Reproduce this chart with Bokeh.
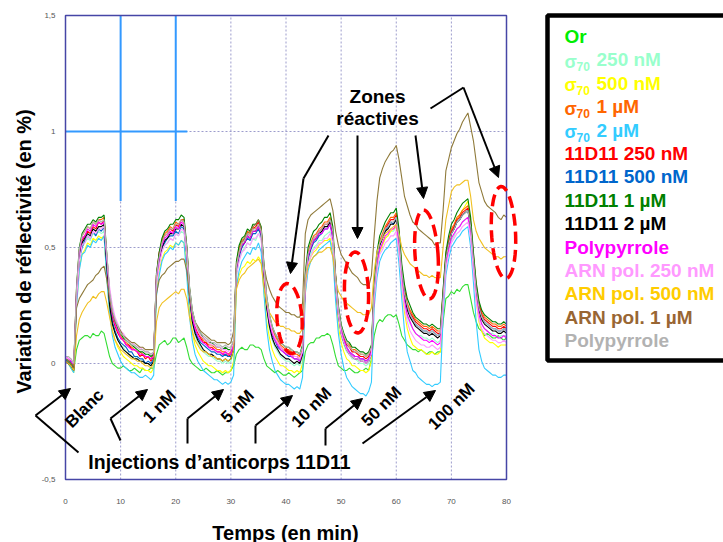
import math
from bokeh.plotting import figure
from bokeh.models import (Range1d, FixedTicker, Label, Arrow, NormalHead,
                          BoxAnnotation, PolyAnnotation)
from bokeh.embed import file_html
from bokeh.resources import INLINE

# ---------------- data: reflectivity variation (%) every 0.5 min, 0..80 min ----------------
time_min = [i * 0.5 for i in range(161)]

or_gold = [
    0.01, 0.02, -0.01, -0.03, 0.06, 0.10, 0.11, 0.12, 0.12, 0.11, 0.13, 0.12, 0.12, 0.14, 0.13, 0.08, 0.03, 0.00, -0.01, -0.02,
    -0.02, -0.01, -0.02, -0.03, -0.03, -0.02, -0.03, -0.04, -0.02, -0.03, -0.03, -0.02, -0.02, 0.04, 0.08, 0.09, 0.10, 0.08, 0.09, 0.11,
    0.11, 0.09, 0.10, 0.11, 0.07, 0.02, 0.00, -0.01, -0.02, -0.03, -0.03, -0.02, -0.03, -0.04, -0.04, -0.03, -0.04, -0.05, -0.04, -0.04,
    -0.03, -0.01, 0.04, 0.06, 0.07, 0.06, 0.06, 0.08, 0.08, 0.07, 0.07, 0.06, 0.02, -0.01, -0.02, -0.03, -0.04, -0.03, -0.04, -0.05,
    -0.05, -0.04, -0.05, -0.06, -0.05, -0.04, -0.03, 0.05, 0.08, 0.09, 0.09, 0.11, 0.11, 0.12, 0.12, 0.13, 0.12, 0.08, 0.03, -0.01,
    -0.02, -0.03, -0.03, -0.02, -0.03, -0.04, -0.04, -0.03, -0.03, -0.02, -0.03, 0.02, 0.12, 0.17, 0.19, 0.18, 0.20, 0.21, 0.21, 0.20,
    0.21, 0.17, 0.12, 0.10, 0.08, 0.07, 0.06, 0.06, 0.05, 0.06, 0.05, 0.04, 0.05, 0.05, 0.04, 0.05, 0.05, 0.18, 0.28, 0.29,
    0.31, 0.30, 0.32, 0.31, 0.33, 0.34, 0.34, 0.28, 0.22, 0.18, 0.15, 0.14, 0.12, 0.13, 0.12, 0.11, 0.11, 0.12, 0.11, 0.10,
    0.11]
sigma_250 = [
    0.02, 0.01, 0.00, -0.02, 0.27, 0.44, 0.50, 0.52, 0.54, 0.53, 0.56, 0.55, 0.57, 0.56, 0.57, 0.40, 0.25, 0.17, 0.13, 0.10,
    0.08, 0.07, 0.05, 0.04, 0.03, 0.03, 0.02, 0.01, 0.01, 0.00, 0.00, -0.01, 0.01, 0.34, 0.44, 0.49, 0.51, 0.52, 0.54, 0.53,
    0.56, 0.55, 0.57, 0.56, 0.46, 0.28, 0.17, 0.12, 0.09, 0.07, 0.05, 0.04, 0.03, 0.03, 0.02, 0.01, 0.01, 0.00, 0.01, 0.00,
    0.01, 0.05, 0.37, 0.45, 0.48, 0.50, 0.52, 0.51, 0.54, 0.53, 0.56, 0.54, 0.37, 0.23, 0.15, 0.10, 0.07, 0.05, 0.03, 0.02,
    0.01, 0.01, 0.00, -0.01, 0.00, -0.01, 0.03, 0.32, 0.43, 0.47, 0.50, 0.51, 0.53, 0.53, 0.55, 0.56, 0.57, 0.52, 0.33, 0.20,
    0.12, 0.08, 0.05, 0.04, 0.02, 0.02, 0.01, 0.00, 0.00, -0.01, 0.00, 0.04, 0.29, 0.41, 0.48, 0.51, 0.54, 0.55, 0.57, 0.57,
    0.59, 0.50, 0.36, 0.26, 0.20, 0.17, 0.15, 0.13, 0.12, 0.12, 0.11, 0.11, 0.10, 0.11, 0.10, 0.09, 0.10, 0.27, 0.43, 0.49,
    0.53, 0.55, 0.58, 0.59, 0.61, 0.62, 0.63, 0.56, 0.42, 0.29, 0.21, 0.17, 0.15, 0.14, 0.13, 0.13, 0.12, 0.11, 0.12, 0.12,
    0.12]
sigma_500 = [
    0.01, 0.00, -0.02, -0.04, 0.25, 0.41, 0.47, 0.49, 0.52, 0.51, 0.54, 0.53, 0.55, 0.54, 0.55, 0.37, 0.22, 0.14, 0.10, 0.07,
    0.05, 0.03, 0.02, 0.01, 0.00, -0.01, -0.01, -0.02, -0.02, -0.03, -0.03, -0.04, -0.02, 0.31, 0.40, 0.45, 0.48, 0.49, 0.51, 0.50,
    0.52, 0.51, 0.53, 0.52, 0.42, 0.23, 0.13, 0.08, 0.05, 0.03, 0.01, 0.00, -0.01, -0.01, -0.02, -0.03, -0.03, -0.04, -0.03, -0.04,
    -0.03, 0.01, 0.33, 0.38, 0.41, 0.42, 0.44, 0.43, 0.45, 0.44, 0.46, 0.44, 0.31, 0.18, 0.11, 0.06, 0.03, 0.01, -0.01, -0.01,
    -0.02, -0.03, -0.03, -0.04, -0.03, -0.04, 0.00, 0.31, 0.42, 0.46, 0.48, 0.49, 0.51, 0.52, 0.53, 0.53, 0.54, 0.49, 0.30, 0.16,
    0.09, 0.05, 0.02, 0.01, -0.01, -0.01, -0.02, -0.03, -0.03, -0.04, -0.03, 0.01, 0.28, 0.41, 0.48, 0.51, 0.54, 0.55, 0.57, 0.58,
    0.59, 0.48, 0.33, 0.22, 0.15, 0.11, 0.08, 0.07, 0.06, 0.06, 0.05, 0.04, 0.04, 0.05, 0.04, 0.04, 0.05, 0.26, 0.44, 0.51,
    0.56, 0.59, 0.62, 0.64, 0.66, 0.68, 0.70, 0.60, 0.42, 0.27, 0.18, 0.14, 0.11, 0.10, 0.09, 0.09, 0.08, 0.07, 0.08, 0.08,
    0.08]
sigma_1u = [
    0.03, 0.02, 0.01, -0.01, 0.32, 0.49, 0.55, 0.57, 0.59, 0.58, 0.61, 0.60, 0.62, 0.62, 0.63, 0.46, 0.30, 0.21, 0.17, 0.14,
    0.12, 0.10, 0.09, 0.08, 0.07, 0.06, 0.05, 0.05, 0.04, 0.03, 0.03, 0.02, 0.04, 0.38, 0.47, 0.53, 0.56, 0.57, 0.59, 0.58,
    0.61, 0.60, 0.62, 0.62, 0.49, 0.32, 0.22, 0.17, 0.14, 0.12, 0.10, 0.09, 0.08, 0.08, 0.07, 0.06, 0.06, 0.05, 0.05, 0.04,
    0.05, 0.09, 0.43, 0.50, 0.53, 0.54, 0.57, 0.56, 0.59, 0.58, 0.60, 0.57, 0.41, 0.28, 0.20, 0.15, 0.12, 0.10, 0.08, 0.07,
    0.06, 0.06, 0.05, 0.04, 0.04, 0.03, 0.07, 0.38, 0.48, 0.52, 0.55, 0.56, 0.58, 0.59, 0.61, 0.61, 0.63, 0.57, 0.37, 0.24,
    0.16, 0.12, 0.09, 0.08, 0.06, 0.06, 0.05, 0.04, 0.04, 0.03, 0.04, 0.07, 0.33, 0.46, 0.53, 0.56, 0.59, 0.61, 0.63, 0.63,
    0.65, 0.56, 0.41, 0.32, 0.26, 0.23, 0.21, 0.19, 0.18, 0.17, 0.16, 0.16, 0.15, 0.16, 0.15, 0.14, 0.14, 0.31, 0.47, 0.53,
    0.58, 0.60, 0.63, 0.64, 0.66, 0.67, 0.68, 0.61, 0.47, 0.34, 0.26, 0.22, 0.20, 0.19, 0.18, 0.17, 0.17, 0.16, 0.16, 0.17,
    0.16]
sigma_2u = [
    0.01, 0.00, -0.02, -0.04, 0.24, 0.40, 0.47, 0.48, 0.51, 0.50, 0.53, 0.52, 0.54, 0.53, 0.55, 0.36, 0.22, 0.12, 0.07, 0.04,
    0.01, -0.01, -0.02, -0.03, -0.04, -0.04, -0.05, -0.06, -0.06, -0.05, -0.06, -0.07, -0.05, 0.29, 0.38, 0.44, 0.47, 0.48, 0.50, 0.49,
    0.52, 0.51, 0.53, 0.52, 0.38, 0.20, 0.10, 0.04, 0.01, -0.01, -0.03, -0.04, -0.05, -0.06, -0.07, -0.07, -0.08, -0.09, -0.08, -0.09,
    -0.08, -0.05, 0.33, 0.40, 0.44, 0.46, 0.48, 0.47, 0.50, 0.49, 0.52, 0.48, 0.30, 0.15, 0.06, 0.01, -0.03, -0.05, -0.07, -0.08,
    -0.09, -0.09, -0.10, -0.11, -0.10, -0.11, -0.06, 0.30, 0.40, 0.44, 0.46, 0.47, 0.49, 0.50, 0.51, 0.52, 0.53, 0.46, 0.27, 0.13,
    0.04, -0.02, -0.06, -0.08, -0.10, -0.11, -0.12, -0.13, -0.13, -0.14, -0.12, -0.08, 0.24, 0.37, 0.44, 0.47, 0.49, 0.50, 0.52, 0.53,
    0.54, 0.43, 0.28, 0.14, 0.05, 0.01, -0.03, -0.04, -0.06, -0.07, -0.08, -0.09, -0.09, -0.10, -0.09, -0.09, -0.08, 0.20, 0.38, 0.45,
    0.50, 0.52, 0.54, 0.55, 0.57, 0.58, 0.59, 0.50, 0.35, 0.18, 0.06, 0.01, -0.02, -0.03, -0.04, -0.05, -0.05, -0.06, -0.06, -0.05,
    -0.05]
ab_250 = [
    0.02, 0.01, 0.00, -0.02, 0.30, 0.47, 0.53, 0.55, 0.57, 0.56, 0.59, 0.58, 0.61, 0.60, 0.62, 0.44, 0.28, 0.20, 0.16, 0.13,
    0.11, 0.10, 0.08, 0.08, 0.06, 0.06, 0.05, 0.03, 0.04, 0.02, 0.03, 0.01, 0.03, 0.38, 0.48, 0.52, 0.55, 0.56, 0.58, 0.57,
    0.60, 0.59, 0.62, 0.61, 0.50, 0.32, 0.21, 0.16, 0.13, 0.11, 0.09, 0.09, 0.07, 0.07, 0.06, 0.05, 0.05, 0.04, 0.04, 0.03,
    0.04, 0.08, 0.40, 0.48, 0.52, 0.53, 0.56, 0.55, 0.58, 0.59, 0.61, 0.58, 0.40, 0.27, 0.19, 0.14, 0.11, 0.09, 0.07, 0.06,
    0.05, 0.05, 0.04, 0.03, 0.03, 0.02, 0.04, 0.36, 0.47, 0.51, 0.54, 0.55, 0.57, 0.58, 0.60, 0.60, 0.62, 0.56, 0.38, 0.24,
    0.15, 0.11, 0.08, 0.07, 0.05, 0.05, 0.04, 0.03, 0.03, 0.02, 0.03, 0.06, 0.32, 0.45, 0.52, 0.55, 0.58, 0.60, 0.62, 0.62,
    0.64, 0.55, 0.40, 0.31, 0.25, 0.22, 0.20, 0.18, 0.17, 0.16, 0.15, 0.15, 0.14, 0.15, 0.14, 0.13, 0.13, 0.30, 0.46, 0.52,
    0.57, 0.59, 0.62, 0.63, 0.65, 0.66, 0.67, 0.60, 0.46, 0.33, 0.25, 0.21, 0.19, 0.18, 0.17, 0.16, 0.16, 0.15, 0.15, 0.16,
    0.15]
ab_500 = [
    0.02, 0.00, 0.01, -0.02, 0.28, 0.45, 0.50, 0.53, 0.55, 0.54, 0.57, 0.55, 0.58, 0.57, 0.59, 0.42, 0.26, 0.18, 0.14, 0.11,
    0.09, 0.08, 0.07, 0.05, 0.05, 0.03, 0.03, 0.02, 0.02, 0.00, 0.01, 0.00, 0.02, 0.35, 0.45, 0.50, 0.52, 0.54, 0.55, 0.55,
    0.57, 0.56, 0.59, 0.58, 0.47, 0.29, 0.19, 0.14, 0.11, 0.09, 0.08, 0.07, 0.06, 0.05, 0.05, 0.04, 0.04, 0.03, 0.04, 0.03,
    0.03, 0.07, 0.39, 0.46, 0.50, 0.52, 0.54, 0.53, 0.56, 0.56, 0.58, 0.55, 0.39, 0.25, 0.17, 0.12, 0.10, 0.07, 0.06, 0.05,
    0.04, 0.03, 0.03, 0.02, 0.02, 0.01, 0.05, 0.34, 0.45, 0.49, 0.52, 0.53, 0.55, 0.56, 0.58, 0.58, 0.60, 0.54, 0.35, 0.22,
    0.14, 0.10, 0.07, 0.05, 0.04, 0.03, 0.03, 0.02, 0.02, 0.01, 0.02, 0.05, 0.31, 0.44, 0.51, 0.54, 0.57, 0.59, 0.61, 0.60,
    0.63, 0.54, 0.39, 0.30, 0.24, 0.21, 0.19, 0.17, 0.16, 0.15, 0.14, 0.14, 0.13, 0.14, 0.13, 0.12, 0.13, 0.29, 0.45, 0.51,
    0.56, 0.58, 0.61, 0.62, 0.64, 0.65, 0.66, 0.59, 0.45, 0.32, 0.24, 0.20, 0.18, 0.17, 0.16, 0.15, 0.15, 0.14, 0.14, 0.15,
    0.14]
ab_1u = [
    0.02, 0.01, 0.00, -0.01, 0.33, 0.50, 0.56, 0.58, 0.60, 0.60, 0.62, 0.61, 0.63, 0.63, 0.64, 0.47, 0.31, 0.22, 0.18, 0.15,
    0.13, 0.11, 0.10, 0.09, 0.08, 0.07, 0.06, 0.05, 0.05, 0.04, 0.04, 0.03, 0.04, 0.39, 0.48, 0.54, 0.57, 0.58, 0.60, 0.60,
    0.62, 0.62, 0.64, 0.63, 0.51, 0.33, 0.23, 0.18, 0.15, 0.13, 0.11, 0.10, 0.09, 0.09, 0.08, 0.07, 0.07, 0.06, 0.07, 0.06,
    0.06, 0.10, 0.44, 0.51, 0.54, 0.55, 0.58, 0.57, 0.60, 0.60, 0.62, 0.59, 0.43, 0.29, 0.21, 0.16, 0.13, 0.11, 0.09, 0.08,
    0.07, 0.07, 0.06, 0.05, 0.05, 0.04, 0.08, 0.39, 0.50, 0.54, 0.57, 0.58, 0.60, 0.61, 0.63, 0.63, 0.65, 0.59, 0.38, 0.25,
    0.17, 0.13, 0.10, 0.09, 0.07, 0.07, 0.06, 0.05, 0.05, 0.04, 0.05, 0.08, 0.35, 0.48, 0.55, 0.58, 0.61, 0.63, 0.65, 0.65,
    0.67, 0.58, 0.43, 0.34, 0.28, 0.25, 0.22, 0.20, 0.19, 0.18, 0.17, 0.17, 0.16, 0.17, 0.16, 0.15, 0.15, 0.32, 0.48, 0.55,
    0.60, 0.62, 0.65, 0.67, 0.69, 0.70, 0.71, 0.63, 0.48, 0.35, 0.27, 0.23, 0.21, 0.20, 0.19, 0.18, 0.18, 0.17, 0.17, 0.18,
    0.17]
ab_2u = [
    0.01, 0.00, -0.01, -0.03, 0.29, 0.46, 0.52, 0.54, 0.56, 0.55, 0.58, 0.57, 0.59, 0.59, 0.60, 0.42, 0.25, 0.17, 0.13, 0.10,
    0.08, 0.06, 0.05, 0.04, 0.03, 0.02, 0.02, 0.01, 0.01, 0.00, 0.00, -0.01, 0.01, 0.36, 0.45, 0.50, 0.53, 0.54, 0.56, 0.56,
    0.58, 0.58, 0.60, 0.59, 0.47, 0.29, 0.18, 0.13, 0.10, 0.08, 0.06, 0.05, 0.04, 0.04, 0.03, 0.02, 0.02, 0.01, 0.02, 0.01,
    0.02, 0.06, 0.41, 0.47, 0.51, 0.52, 0.55, 0.54, 0.57, 0.57, 0.59, 0.56, 0.38, 0.24, 0.16, 0.11, 0.08, 0.06, 0.04, 0.03,
    0.02, 0.02, 0.01, 0.00, 0.01, 0.00, 0.04, 0.35, 0.46, 0.50, 0.53, 0.54, 0.56, 0.57, 0.59, 0.59, 0.61, 0.55, 0.34, 0.21,
    0.13, 0.09, 0.06, 0.04, 0.03, 0.02, 0.02, 0.01, 0.01, 0.00, 0.01, 0.04, 0.31, 0.44, 0.51, 0.54, 0.57, 0.58, 0.60, 0.60,
    0.62, 0.53, 0.38, 0.29, 0.23, 0.20, 0.18, 0.16, 0.15, 0.14, 0.13, 0.13, 0.12, 0.13, 0.12, 0.11, 0.12, 0.28, 0.45, 0.50,
    0.56, 0.58, 0.61, 0.62, 0.64, 0.65, 0.66, 0.58, 0.44, 0.31, 0.23, 0.19, 0.17, 0.16, 0.15, 0.14, 0.14, 0.13, 0.13, 0.14,
    0.13]
polypyrrole = [
    0.03, 0.02, 0.01, -0.01, 0.31, 0.48, 0.54, 0.55, 0.58, 0.57, 0.60, 0.59, 0.61, 0.60, 0.61, 0.45, 0.29, 0.21, 0.17, 0.14,
    0.11, 0.10, 0.08, 0.07, 0.06, 0.06, 0.05, 0.04, 0.04, 0.03, 0.03, 0.02, 0.03, 0.37, 0.45, 0.51, 0.54, 0.55, 0.57, 0.56,
    0.59, 0.58, 0.61, 0.60, 0.48, 0.30, 0.20, 0.15, 0.12, 0.10, 0.09, 0.08, 0.07, 0.06, 0.06, 0.05, 0.05, 0.04, 0.05, 0.04,
    0.04, 0.08, 0.41, 0.47, 0.51, 0.52, 0.55, 0.54, 0.57, 0.57, 0.59, 0.56, 0.40, 0.26, 0.18, 0.13, 0.10, 0.08, 0.06, 0.05,
    0.04, 0.04, 0.03, 0.02, 0.02, 0.01, 0.05, 0.35, 0.46, 0.50, 0.53, 0.54, 0.56, 0.56, 0.58, 0.58, 0.60, 0.54, 0.35, 0.22,
    0.14, 0.10, 0.07, 0.05, 0.04, 0.03, 0.03, 0.02, 0.02, 0.01, 0.02, 0.05, 0.30, 0.43, 0.49, 0.52, 0.55, 0.56, 0.58, 0.58,
    0.60, 0.51, 0.37, 0.27, 0.21, 0.18, 0.15, 0.13, 0.12, 0.11, 0.10, 0.10, 0.09, 0.10, 0.09, 0.08, 0.09, 0.26, 0.43, 0.49,
    0.54, 0.56, 0.58, 0.59, 0.61, 0.62, 0.63, 0.56, 0.42, 0.29, 0.21, 0.17, 0.15, 0.14, 0.13, 0.12, 0.12, 0.11, 0.11, 0.12,
    0.11]
arn_250 = [
    0.03, 0.02, 0.02, 0.00, 0.27, 0.44, 0.51, 0.52, 0.55, 0.54, 0.57, 0.56, 0.58, 0.58, 0.59, 0.46, 0.33, 0.25, 0.20, 0.17,
    0.14, 0.13, 0.11, 0.10, 0.09, 0.08, 0.07, 0.07, 0.06, 0.05, 0.05, 0.04, 0.05, 0.34, 0.42, 0.48, 0.51, 0.52, 0.54, 0.53,
    0.56, 0.55, 0.58, 0.57, 0.47, 0.31, 0.22, 0.17, 0.14, 0.12, 0.11, 0.10, 0.09, 0.08, 0.08, 0.07, 0.07, 0.06, 0.06, 0.05,
    0.06, 0.09, 0.38, 0.44, 0.48, 0.49, 0.52, 0.51, 0.54, 0.54, 0.56, 0.53, 0.40, 0.27, 0.19, 0.14, 0.11, 0.09, 0.07, 0.06,
    0.05, 0.05, 0.04, 0.03, 0.03, 0.02, 0.05, 0.32, 0.43, 0.46, 0.49, 0.50, 0.52, 0.52, 0.54, 0.54, 0.56, 0.52, 0.34, 0.21,
    0.13, 0.09, 0.06, 0.04, 0.03, 0.02, 0.02, 0.01, 0.01, 0.00, 0.01, 0.04, 0.28, 0.40, 0.47, 0.49, 0.52, 0.53, 0.55, 0.55,
    0.57, 0.48, 0.34, 0.24, 0.18, 0.14, 0.12, 0.10, 0.09, 0.08, 0.08, 0.07, 0.07, 0.08, 0.07, 0.06, 0.07, 0.24, 0.41, 0.47,
    0.52, 0.54, 0.56, 0.57, 0.59, 0.60, 0.61, 0.54, 0.40, 0.27, 0.19, 0.15, 0.13, 0.12, 0.11, 0.10, 0.10, 0.09, 0.09, 0.10,
    0.09]
arn_500 = [
    0.01, 0.00, -0.01, -0.03, 0.12, 0.19, 0.22, 0.24, 0.26, 0.27, 0.29, 0.28, 0.30, 0.31, 0.31, 0.26, 0.20, 0.14, 0.10, 0.08,
    0.06, 0.05, 0.04, 0.03, 0.02, 0.02, 0.01, 0.01, 0.00, -0.01, -0.01, -0.02, 0.00, 0.18, 0.24, 0.26, 0.27, 0.28, 0.29, 0.30,
    0.31, 0.30, 0.32, 0.32, 0.28, 0.20, 0.14, 0.10, 0.08, 0.06, 0.05, 0.05, 0.04, 0.03, 0.03, 0.02, 0.02, 0.01, 0.02, 0.01,
    0.02, 0.06, 0.32, 0.36, 0.38, 0.39, 0.41, 0.42, 0.43, 0.44, 0.45, 0.43, 0.33, 0.26, 0.22, 0.20, 0.18, 0.17, 0.16, 0.16,
    0.15, 0.15, 0.14, 0.14, 0.13, 0.13, 0.15, 0.35, 0.42, 0.44, 0.46, 0.47, 0.48, 0.48, 0.49, 0.50, 0.50, 0.46, 0.36, 0.31,
    0.29, 0.27, 0.26, 0.25, 0.24, 0.23, 0.22, 0.22, 0.21, 0.21, 0.21, 0.24, 0.40, 0.48, 0.52, 0.54, 0.56, 0.57, 0.58, 0.59,
    0.60, 0.56, 0.50, 0.47, 0.45, 0.43, 0.42, 0.41, 0.40, 0.39, 0.38, 0.38, 0.37, 0.38, 0.37, 0.37, 0.37, 0.50, 0.62, 0.68,
    0.74, 0.76, 0.77, 0.77, 0.78, 0.79, 0.79, 0.72, 0.62, 0.57, 0.54, 0.52, 0.50, 0.49, 0.48, 0.47, 0.46, 0.46, 0.45, 0.46,
    0.46]
arn_1u = [
    0.02, 0.01, 0.00, -0.01, 0.24, 0.28, 0.30, 0.32, 0.34, 0.35, 0.36, 0.38, 0.39, 0.41, 0.42, 0.36, 0.28, 0.22, 0.18, 0.16,
    0.14, 0.12, 0.11, 0.10, 0.09, 0.09, 0.08, 0.07, 0.07, 0.06, 0.06, 0.06, 0.06, 0.30, 0.36, 0.38, 0.39, 0.41, 0.42, 0.43,
    0.44, 0.44, 0.45, 0.45, 0.40, 0.30, 0.22, 0.18, 0.16, 0.14, 0.13, 0.12, 0.11, 0.10, 0.10, 0.09, 0.09, 0.09, 0.09, 0.08,
    0.09, 0.14, 0.42, 0.48, 0.52, 0.54, 0.56, 0.57, 0.59, 0.60, 0.62, 0.58, 0.42, 0.36, 0.32, 0.29, 0.27, 0.25, 0.24, 0.23,
    0.22, 0.22, 0.21, 0.21, 0.20, 0.20, 0.26, 0.56, 0.62, 0.64, 0.65, 0.66, 0.67, 0.68, 0.69, 0.70, 0.71, 0.66, 0.57, 0.51,
    0.47, 0.45, 0.43, 0.41, 0.39, 0.38, 0.37, 0.35, 0.34, 0.34, 0.33, 0.38, 0.55, 0.70, 0.80, 0.84, 0.87, 0.89, 0.91, 0.92,
    0.94, 0.88, 0.80, 0.72, 0.68, 0.64, 0.61, 0.60, 0.58, 0.57, 0.56, 0.55, 0.54, 0.53, 0.51, 0.52, 0.52, 0.66, 0.83, 0.88,
    0.93, 0.96, 0.99, 1.01, 1.04, 1.06, 1.08, 1.02, 0.96, 0.87, 0.78, 0.74, 0.70, 0.68, 0.67, 0.66, 0.65, 0.63, 0.62, 0.64,
    0.63]
polypyrrole_2 = [
    0.03, 0.03, 0.02, 0.00, 0.32, 0.49, 0.55, 0.57, 0.59, 0.58, 0.61, 0.60, 0.62, 0.61, 0.62, 0.47, 0.31, 0.23, 0.19, 0.16,
    0.13, 0.12, 0.10, 0.09, 0.08, 0.08, 0.07, 0.06, 0.06, 0.05, 0.05, 0.04, 0.05, 0.38, 0.46, 0.52, 0.55, 0.56, 0.58, 0.58,
    0.60, 0.60, 0.62, 0.61, 0.50, 0.33, 0.23, 0.18, 0.15, 0.13, 0.12, 0.11, 0.10, 0.09, 0.09, 0.08, 0.08, 0.07, 0.08, 0.07,
    0.07, 0.10, 0.42, 0.48, 0.52, 0.53, 0.56, 0.55, 0.58, 0.58, 0.60, 0.57, 0.42, 0.29, 0.21, 0.16, 0.13, 0.11, 0.09, 0.08,
    0.07, 0.07, 0.06, 0.05, 0.05, 0.04, 0.07, 0.37, 0.47, 0.51, 0.54, 0.55, 0.57, 0.58, 0.60, 0.60, 0.62, 0.57, 0.37, 0.24,
    0.16, 0.12, 0.09, 0.07, 0.06, 0.05, 0.05, 0.04, 0.04, 0.03, 0.04, 0.07, 0.32, 0.45, 0.52, 0.55, 0.58, 0.59, 0.61, 0.61,
    0.63, 0.54, 0.40, 0.30, 0.25, 0.21, 0.19, 0.17, 0.16, 0.15, 0.14, 0.14, 0.13, 0.14, 0.13, 0.12, 0.13, 0.29, 0.45, 0.51,
    0.56, 0.58, 0.61, 0.62, 0.64, 0.65, 0.66, 0.59, 0.45, 0.32, 0.24, 0.20, 0.18, 0.17, 0.16, 0.15, 0.15, 0.14, 0.14, 0.15,
    0.14]

x_ticks = [0, 10, 20, 30, 40, 50, 60, 70, 80]
y_ticks = [-0.5, 0, 0.5, 1, 1.5]
y_tick_labels = ["-0,5", "0", "0,5", "1", "1,5"]

injection_labels = ["Blanc", "1 nM", "5 nM", "10 nM", "50 nM", "100 nM"]

# (sigma prefix?, legend text, legend colour, line colour, data)
series = [
    (False, "Or", "#00EE00", "#33DD33", or_gold),
    (True, "250 nM", "#99FFCC", "#99FFCC", sigma_250),
    (True, "500 nM", "#FFFF00", "#FFFF00", sigma_500),
    (True, "1 µM", "#FF6600", "#FF6600", sigma_1u),
    (True, "2 µM", "#33CCFF", "#33CCFF", sigma_2u),
    (False, "11D11 250 nM", "#FF0000", "#FF0000", ab_250),
    (False, "11D11 500 nM", "#0066CC", "#0066CC", ab_500),
    (False, "11D11 1 µM", "#008000", "#008000", ab_1u),
    (False, "11D11 2 µM", "#000000", "#000000", ab_2u),
    (False, "Polypyrrole", "#FF00FF", "#FF00FF", polypyrrole),
    (False, "ARN pol. 250 nM", "#FF99FF", "#FF99FF", arn_250),
    (False, "ARN pol. 500 nM", "#FFCC00", "#F0C020", arn_500),
    (False, "ARN pol. 1 µM", "#996633", "#8F7A3A", arn_1u),
    (False, "Polypyrrole", "#B2B2B2", "#B2B2B2", polypyrrole_2),
]
for s in series:
    assert len(s[4]) == len(time_min), (s[1], len(s[4]))

FONT = "Liberation Sans"
W, H = 723, 542


def P(px, py):
    """canvas pixel -> data coordinates (for annotation placement)"""
    return (px - 65) / 5.5125, (363 - py) / 232.0


x0, y_top = P(0, 0)
x1, y_bot = P(W, H)

# ---------------- figure (frame = whole canvas, axes fixed inside) ----------------
p = figure(width=W, height=H, output_backend="svg", toolbar_location=None,
           x_range=Range1d(x0, x1), y_range=Range1d(y_bot, y_top),
           min_border_left=0, min_border_right=0, min_border_top=0,
           min_border_bottom=0, background_fill_color="white",
           border_fill_color="white")
p.outline_line_color = None
p.xgrid.visible = False
p.ygrid.visible = False

p.xaxis.ticker = FixedTicker(ticks=x_ticks)
p.yaxis.ticker = FixedTicker(ticks=y_ticks)
p.yaxis.major_label_overrides = {v: s for v, s in zip(y_ticks, y_tick_labels)}
p.xaxis.fixed_location = -0.5
p.yaxis.fixed_location = 0
p.xaxis.bounds = (0, 80)
p.yaxis.bounds = (-0.5, 1.5)
for ax in (p.xaxis[0], p.yaxis[0]):
    ax.axis_line_color = None
    ax.major_tick_out = 0
    ax.major_tick_in = 0
    ax.minor_tick_out = 0
    ax.minor_tick_in = 0
    ax.major_label_text_font = FONT
    ax.major_label_text_font_size = "8px"
    ax.major_label_text_color = "#555555"
p.xaxis.major_label_standoff = 19
p.yaxis.major_label_standoff = 10

# dotted grid inside the data box
p.multi_line(xs=[[x, x] for x in x_ticks[1:-1]], ys=[[-0.5, 1.5]] * (len(x_ticks) - 2),
             line_color="#9C9CCC", line_dash="2 2", line_width=1)
p.multi_line(xs=[[0, 80]] * (len(y_ticks) - 2), ys=[[y, y] for y in y_ticks[1:-1]],
             line_color="#9C9CCC", line_dash="2 2", line_width=1)

# white patch + blue lines (top-left artefact)
p.add_layout(BoxAnnotation(left=0.15, right=21.8, bottom=0.7, top=1.49,
                           fill_color="white", fill_alpha=1.0, line_alpha=0))
for (a, b) in [((10, 1.5), (10, 0.7)), ((20, 1.5), (20, 0.7)), ((0, 1.0), (22.1, 1.0))]:
    p.add_layout(Arrow(end=None, x_start=a[0], y_start=a[1], x_end=b[0], y_end=b[1],
                       line_color="#3399FF", line_width=2))

# data box border
p.add_layout(BoxAnnotation(left=0, right=80, bottom=-0.5, top=1.5, fill_alpha=0,
                           line_color="#4646A6", line_alpha=1, line_width=1.5))

# data lines
for has_sigma, txt, lc, col, vals in series:
    p.line(time_min, vals, line_color=col, line_width=1.1)


# ---------------- annotations ----------------
def arrow(p0, p1, head=True):
    xa, ya = P(*p0)
    xb, yb = P(*p1)
    end = NormalHead(size=11, fill_color="black", line_color="black") if head else None
    p.add_layout(Arrow(end=end, x_start=xa, y_start=ya, x_end=xb, y_end=yb,
                       line_color="black", line_width=2))


# injection arrows
arrow((78, 452), (35, 415), False); arrow((35, 415), (70, 388))
arrow((120, 440), (110, 418), False); arrow((110, 418), (147, 389))
arrow((187, 443), (187, 418), False); arrow((187, 418), (223, 389))
arrow((255, 443), (255, 425), False); arrow((255, 425), (292, 395))
arrow((325, 445), (325, 428), False); arrow((325, 428), (362, 398))
arrow((362, 443), (435, 390))
# reactive zone arrows
arrow((328, 135), (303, 178), False); arrow((303, 178), (290, 273))
arrow((357, 135), (357, 238))
arrow((415, 135), (423, 198))
arrow((430, 108), (463, 87), False); arrow((463, 87), (498, 177))


def label(px, py, text, size, angle=0.0, color="black", align="center",
          baseline="middle", style="bold"):
    x, y = P(px, py)
    p.add_layout(Label(x=x, y=y, text=text, angle=angle, text_color=color,
                       text_font=FONT, text_font_size=size, text_font_style=style,
                       text_align=align, text_baseline=baseline))


centers = [(84, 408), (159, 406), (237, 406), (311, 407), (381, 406), (451, 406)]
for (cx, cy), txt in zip(centers, injection_labels):
    label(cx, cy, txt, "17px", angle=math.pi / 4)

label(219, 461, "Injections d\u2019anticorps 11D11", "19.5px")
label(377, 96, "Zones", "19px")
label(377, 118, "réactives", "19px")

# red dashed ellipses
for cx, cy, w, h, tilt in [(289, 318, 25, 70, 4), (356, 292, 24, 81, 2),
                           (426, 254, 23, 89, 4), (503, 232, 24, 92, 3)]:
    xs, ys = [], []
    th = math.radians(tilt)
    for k in range(73):
        a = 2 * math.pi * k / 72
        ex, ey = w / 2 * math.cos(a), h / 2 * math.sin(a)
        rx = ex * math.cos(th) + ey * math.sin(th)
        ry = -ex * math.sin(th) + ey * math.cos(th)
        dx, dy = P(cx + rx, cy + ry)
        xs.append(dx); ys.append(dy)
    p.add_layout(PolyAnnotation(xs=xs, ys=ys, fill_alpha=0, line_color="#FF0000",
                                line_alpha=1, line_width=3.5, line_dash="12 6"))

# axis titles
label(285, 532, "Temps (en min)", "20px")
label(23, 251, "Variation de réflectivité (en %)", "20px", angle=math.pi / 2)

# legend box
lx0, ly0 = P(547, 15)
lx1, ly1 = P(760, 360)
p.add_layout(BoxAnnotation(left=lx0, right=lx1, top=ly0, bottom=ly1,
                           fill_alpha=0, line_color="black", line_alpha=1,
                           line_width=4.5))

for i, (has_sigma, txt, lc, col, vals) in enumerate(series):
    c = 36 + i * 23.4
    if has_sigma:
        label(564, c + 2, "σ", "18px", color=lc, align="left")
        label(576, c + 7, "70", "12px", color=lc, align="left")
        label(596, c, txt, "19px", color=lc, align="left")
    else:
        label(564, c, txt, "19px", color=lc, align="left")

open("out.html", "w").write(file_html(p, INLINE))
